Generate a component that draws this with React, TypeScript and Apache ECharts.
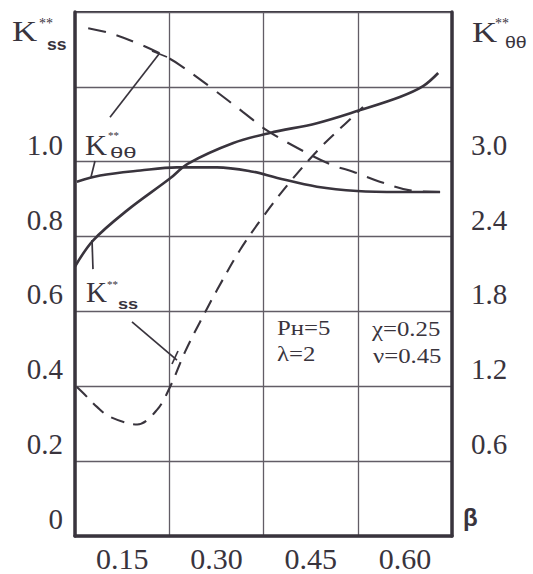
import React, { useEffect, useRef } from 'react';
import * as echarts from 'echarts';

// β tick labels (placed at cell centres, gridlines at cell borders)
const betaLabels = ['0.15', '0.30', '0.45', '0.60'];

// K**ss curves (left axis), points [β, K]
const kssSolid: [number, number][] = [
  [0.075, 0.72], [0.104, 0.79], [0.158, 0.87], [0.226, 0.955], [0.255, 0.995],
  [0.327, 1.05], [0.385, 1.077], [0.46, 1.103], [0.529, 1.138],
  [0.592, 1.173], [0.629, 1.202], [0.653, 1.237],
];
const kssDashed: [number, number][] = [
  [0.078, 0.398], [0.088, 0.382], [0.11, 0.345], [0.131, 0.318], [0.174, 0.298],
  [0.2055, 0.337], [0.2262, 0.398], [0.2501, 0.492], [0.274, 0.572], [0.301, 0.657],
  [0.3376, 0.764], [0.3774, 0.86], [0.4172, 0.946], [0.465, 1.037], [0.5048, 1.101],
  [0.5334, 1.146],
];

// K**θθ curves (right axis), points [β, K]
const kttSolid: [number, number][] = [
  [0.078, 2.84], [0.115, 2.89], [0.179, 2.93], [0.237, 2.955], [0.301, 2.955],
  [0.358, 2.92], [0.397, 2.87], [0.46, 2.8], [0.524, 2.765], [0.592, 2.757], [0.656, 2.757],
];
const kttDashed: [number, number][] = [
  [0.096, 4.07], [0.131, 4.03], [0.174, 3.95], [0.215, 3.855], [0.242, 3.775],
  [0.29, 3.6], [0.342, 3.4], [0.381, 3.25], [0.444, 3.07], [0.486, 2.97],
  [0.5175, 2.92], [0.56, 2.84], [0.608, 2.77], [0.656, 2.757],
];

// leader lines of the curve labels, in [β, K(left axis)]
const leaderLines: [number, number][][] = [
  [[0.1307, 1.119], [0.2087, 1.288]],
  [[0.1976, 1.296], [0.2214, 1.28]],
  [[0.1068, 1.002], [0.1005, 0.959]],
  [[0.1021, 0.791], [0.1036, 0.713]],
  [[0.1657, 0.572], [0.2373, 0.47]],
  [[0.2294, 0.4595], [0.2389, 0.4943]],
];

const paramTexts = ['Pн=5', 'λ=2', 'χ=0.25', 'ν=0.45'];

const ink = '#39343d';
const gridInk = '#625d66';
const serif = 'Liberation Serif';
const sans = 'Liberation Sans';

function txt(x: number, y: number, text: string, fontSize: number, o: any = {}) {
  return {
    type: 'text',
    x,
    y,
    scaleX: o.sx ?? 1,
    silent: true,
    style: {
      text,
      fontSize,
      fontFamily: o.ff ?? serif,
      fontWeight: o.fw ?? 'normal',
      fill: ink,
      textAlign: 'left',
      textVerticalAlign: 'middle',
      align: 'left',
      verticalAlign: 'middle',
    },
  };
}

export default function App() {
  const ref = useRef<HTMLDivElement>(null);
  useEffect(() => {
    document.body.style.margin = '0';
    const chart = echarts.init(ref.current!, undefined, { renderer: 'svg' });
    const curve = (name: string, data: [number, number][], yIdx: number, dashed: number[] | null, w: number) => ({
      name,
      type: 'line',
      xAxisIndex: 1,
      yAxisIndex: yIdx,
      data,
      smooth: 0.35,
      showSymbol: false,
      symbol: 'none',
      silent: true,
      lineStyle: { color: ink, width: w, type: dashed ?? 'solid', cap: 'butt' },
      z: 5,
    });
    const leaders = leaderLines.map((seg, i) => ({
      name: 'leader' + i,
      type: 'line',
      xAxisIndex: 1,
      yAxisIndex: 0,
      data: seg,
      symbol: 'none',
      silent: true,
      lineStyle: { color: ink, width: 1.7 },
      z: 6,
    }));
    const option: any = {
      animation: false,
      backgroundColor: '#ffffff',
      grid: {
        left: 75, right: 81, top: 12, bottom: 38,
        show: true, borderColor: ink, borderWidth: 2, backgroundColor: 'transparent',
      },
      xAxis: [
        {
          type: 'category',
          data: betaLabels,
          boundaryGap: true,
          position: 'bottom',
          axisLine: { show: true, lineStyle: { color: ink, width: 3.5 } },
          axisTick: { show: false },
          axisLabel: { color: ink, fontFamily: serif, fontSize: 30, margin: 7, interval: 0 },
          splitLine: { show: true, lineStyle: { color: gridInk, width: 1.3 } },
        },
        { type: 'value', min: 0.075, max: 0.675, show: false },
      ],
      yAxis: [
        {
          type: 'value', min: 0, max: 1.4, interval: 0.2, position: 'left',
          axisLine: { show: true, lineStyle: { color: ink, width: 3.5 } },
          axisTick: { show: false },
          axisLabel: {
            formatter: (v: number) => (v > 1.01 ? '' : v === 0 ? '0' : v.toFixed(1)),
            color: ink, fontFamily: serif, fontSize: 29, margin: 12,
            verticalAlign: 'bottom', lineHeight: 34,
          },
          splitLine: { show: true, lineStyle: { color: gridInk, width: 1.3 } },
        },
        {
          type: 'value', min: 0, max: 4.2, interval: 0.6, position: 'right',
          axisLine: { show: true, lineStyle: { color: ink, width: 3.5 } },
          axisTick: { show: false },
          axisLabel: {
            formatter: (v: number) => (v < 0.01 || v > 3.05 ? '' : v.toFixed(1)),
            color: ink, fontFamily: serif, fontSize: 29, margin: 19,
            verticalAlign: 'bottom', lineHeight: 34,
          },
          splitLine: { show: false },
        },
      ],
      series: [
        curve('K**ss solid', kssSolid, 0, null, 2.6),
        curve('K**ss dashed', kssDashed, 0, [14, 9], 2.1),
        curve('K**θθ solid', kttSolid, 1, null, 2.6),
        curve('K**θθ dashed', kttDashed, 1, [18, 11], 2.1),
        ...leaders,
      ],
      graphic: [
        // top-left axis title
        txt(12, 31, 'K', 29, { sx: 1.2 }),
        txt(39, 23, '**', 14),
        txt(47, 45, 'ss', 16, { ff: sans, fw: 'bold', sx: 1.1 }),
        // top-right axis title
        txt(472, 32, 'K', 29, { sx: 1.2 }),
        txt(495, 23, '**', 14),
        txt(505, 41.5, 'θθ', 17, { ff: sans, sx: 1.15 }),
        // inner label K**θθ
        txt(85, 145, 'K', 29, { sx: 1.05 }),
        txt(108, 135, '**', 11),
        txt(110, 153, 'θθ', 15, { ff: sans, sx: 1.6 }),
        // inner label K**ss
        txt(86, 292, 'K', 29, { sx: 1.0 }),
        txt(107, 284, '**', 11),
        txt(118, 304, 'ss', 14, { ff: sans, fw: 'bold', sx: 1.3 }),
        // parameters
        txt(277, 328.5, paramTexts[0], 21, { sx: 1.18 }),
        txt(277, 354.5, paramTexts[1], 21, { sx: 1.18 }),
        txt(372, 329, paramTexts[2], 21, { sx: 1.18 }),
        txt(373, 356, paramTexts[3], 21, { sx: 1.18 }),
        // β at the bottom of the right axis
        txt(463, 517, 'β', 24, { ff: sans, fw: 'bold' }),
      ],
    };
    chart.setOption(option);
    return () => chart.dispose();
  }, []);
  return <div ref={ref} style={{ width: 533, height: 574, position: 'absolute', left: 0, top: 0 }} />;
}
